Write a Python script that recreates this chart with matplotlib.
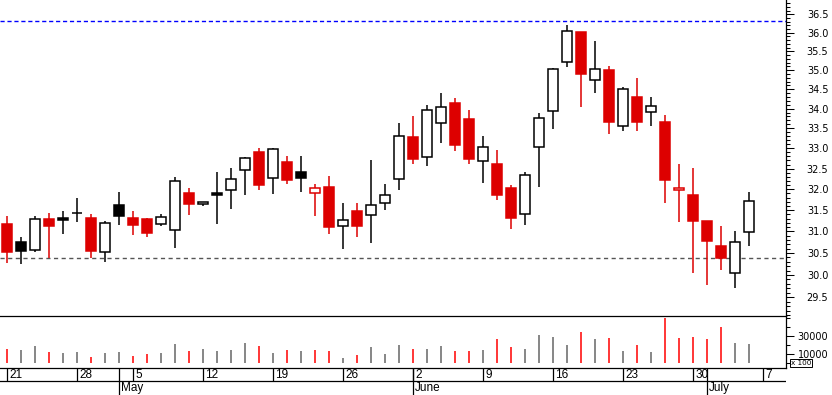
import matplotlib
matplotlib.use('Agg')
import matplotlib.pyplot as plt
from matplotlib.ticker import FixedLocator, NullFormatter, FuncFormatter
from matplotlib.transforms import offset_copy
import numpy as np

# daily prices, one trading day per entry (21 Apr .. 4 Jul)
opens = [31.17, 30.75, 30.56, 31.29, 31.31, 31.43, 31.31, 30.52, 31.62, 31.31,
         31.29, 31.17, 31.03, 31.91, 31.64, 31.91, 31.97, 32.46, 32.91, 32.26,
         32.66, 32.41, 31.90, 32.05, 31.12, 31.48, 31.38, 31.66, 32.24, 33.28,
         32.78, 33.63, 34.15, 33.74, 32.69, 32.61, 32.03, 31.40, 33.03, 33.93,
         35.21, 36.02, 34.73, 35.00, 33.55, 34.30, 33.91, 33.66, 31.97, 31.86,
         31.24, 30.66, 30.05, 30.98]
highs = [31.36, 30.86, 31.36, 31.43, 31.48, 31.79, 31.41, 31.24, 31.93, 31.48,
         31.31, 31.41, 32.30, 32.03, 31.70, 32.42, 32.51, 32.79, 33.01, 33.02,
         32.81, 32.81, 32.13, 32.31, 31.67, 31.67, 32.71, 32.13, 33.64, 33.81,
         34.10, 34.40, 34.28, 33.97, 33.31, 32.96, 32.10, 32.42, 33.88, 35.05,
         36.21, 36.02, 35.78, 35.11, 34.57, 34.79, 34.30, 33.84, 32.61, 32.52,
         31.24, 31.13, 31.01, 31.93]
lows = [30.28, 30.26, 30.53, 30.39, 30.95, 31.23, 30.39, 30.30, 31.16, 30.92,
        30.86, 31.12, 30.62, 31.39, 31.61, 31.18, 31.53, 31.87, 31.97, 31.89,
        32.13, 31.94, 31.37, 30.95, 30.60, 30.88, 30.72, 31.51, 31.99, 32.62,
        32.57, 33.14, 32.94, 32.62, 32.16, 31.75, 31.06, 31.16, 32.05, 33.49,
        35.09, 34.05, 34.41, 33.37, 33.44, 33.44, 33.57, 31.68, 31.21, 30.05,
        29.78, 30.12, 29.70, 30.65]
closes = [30.53, 30.54, 31.28, 31.13, 31.27, 31.43, 30.55, 31.19, 31.35, 31.16,
          30.97, 31.33, 32.20, 31.65, 31.69, 31.87, 32.24, 32.75, 32.11, 32.98,
          32.23, 32.28, 32.02, 31.11, 31.26, 31.13, 31.62, 31.86, 33.30, 32.74,
          33.96, 34.04, 33.09, 32.74, 33.03, 31.85, 31.32, 32.34, 33.76, 35.02,
          36.04, 34.91, 35.02, 33.67, 34.50, 33.67, 34.06, 32.23, 32.02, 31.25,
          30.78, 30.39, 30.75, 31.71]
# volume in hundreds of shares
vols = [15800, 14700, 18400, 11600, 10500, 11600, 6800, 10500, 12400, 7900,
        9400, 10500, 20700, 12800, 15000, 12800, 13900, 21800, 18400, 10500,
        13900, 12800, 13900, 12800, 4900, 8200, 17300, 9400, 19500, 15000,
        15000, 18400, 12800, 12800, 13900, 26300, 17300, 15000, 30800, 28600,
        19500, 34200, 26300, 27500, 12800, 19500, 11600, 50000, 27500, 28600,
        26300, 39900, 21800, 20700]

resist = 36.31
support = 30.38

week_idx = [0, 5, 9, 14, 19, 24, 29, 34, 39, 44, 49, 54]
week_lbl = ['21', '28', '5', '12', '19', '26', '2', '9', '16', '23', '30', '7']
month_idx = [8, 29, 50]
month_lbl = ['May', 'June', 'July']

price_ticks = np.arange(29.5, 36.51, 0.5)
vol_ticks = [10000, 30000]

o = np.array(opens); h = np.array(highs); l = np.array(lows); c = np.array(closes)
x = np.arange(len(c))
prev = np.r_[o[0], c[:-1]]
up = c >= prev
col = np.where(up, 'black', '#dd0000')
face = np.where(c < o, col, 'white')

W, H = 832, 395
fig = plt.figure(figsize=(W / 100, H / 100), dpi=100)
ax = fig.add_axes([0, 79 / H, 786 / W, 316 / H])
axv = fig.add_axes([0, 27.3 / H, 786 / W, 51.7 / H])
axd = fig.add_axes([0, 0, 786 / W, 27.3 / H])
for a in (ax, axv, axd):
    a.set_xlim(-0.5, 55.64)
    a.set_facecolor('none')

# price panel
ax.set_yscale('log')
ax.axhline(resist, color='#0000ff', lw=1.0, ls=(0, (3, 2)), zorder=1)
ax.axhline(support, color='#555555', lw=1.0, ls=(0, (3, 2.5)), zorder=1)
ax.vlines(x, l, h, colors=col, lw=1.1, zorder=2)
ax.bar(x, np.abs(c - o), bottom=np.minimum(o, c), width=0.75,
       color=face, edgecolor=col, lw=1.1, zorder=3)
ax.set_ylim(29.088, 36.897)
ax.yaxis.tick_right()
ax.yaxis.set_major_locator(FixedLocator(price_ticks))
ax.yaxis.set_minor_locator(FixedLocator(np.arange(29.1, 36.85, 0.1)))
ax.yaxis.set_major_formatter(FuncFormatter(lambda v, p: '%.1f' % v))
ax.yaxis.set_minor_formatter(NullFormatter())
ax.tick_params(axis='y', which='major', length=6, width=0.75, pad=24.5, labelsize=7)
ax.tick_params(axis='y', which='minor', length=3, width=0.75)
plt.setp(ax.get_yticklabels(), ha='right')
ax.set_xticks([])
for s in ('top', 'left'):
    ax.spines[s].set_visible(False)
for s in ('right', 'bottom'):
    ax.spines[s].set_linewidth(0.9)

# volume panel
axv.vlines(x, 0, vols, colors=np.where(up, '#666666', '#ff0000'), lw=1.1)
axv.set_ylim(-5820, 52600)
axv.yaxis.tick_right()
axv.set_yticks(vol_ticks)
axv.set_yticklabels([str(v) for v in vol_ticks])
axv.yaxis.set_minor_locator(FixedLocator(np.arange(0, 52000, 10000)))
axv.tick_params(axis='y', which='major', length=6, width=0.75, pad=24.5, labelsize=7)
axv.tick_params(axis='y', which='minor', length=3, width=0.75)
plt.setp(axv.get_yticklabels(), ha='right')
axv.set_xticks([])
for s in ('top', 'left', 'bottom'):
    axv.spines[s].set_visible(False)
axv.spines['right'].set_linewidth(0.9)
fig.text(791 / W, 1 - 363.2 / H, 'x 100', fontsize=5.2, ha='left', va='center', zorder=10,
         bbox=dict(boxstyle='square,pad=0.1', fc='white', ec='black', lw=0.7))

# date axis
row = 14 / 27.3
axd.set_ylim(0, 1)
axd.set_xticks([]); axd.set_yticks([])
for s in ('left', 'right', 'bottom'):
    axd.spines[s].set_visible(False)
axd.spines['top'].set_linewidth(0.9)
axd.axhline(row, color='black', lw=0.9)
axd.vlines(week_idx, row, 1, color='black', lw=0.9)
axd.vlines(month_idx, 0, 1, color='black', lw=0.9)
tr = offset_copy(axd.transData, fig=fig, x=2, y=0, units='dots')
for i, s in zip(week_idx, week_lbl):
    axd.text(i, 0.75, s, transform=tr, fontsize=8.5, family='Liberation Sans',
             ha='left', va='center')
for i, s in zip(month_idx, month_lbl):
    axd.text(i, 0.25, s, transform=tr, fontsize=8.5, family='Liberation Sans',
             ha='left', va='center')

fig.savefig('out.png', dpi=100)
